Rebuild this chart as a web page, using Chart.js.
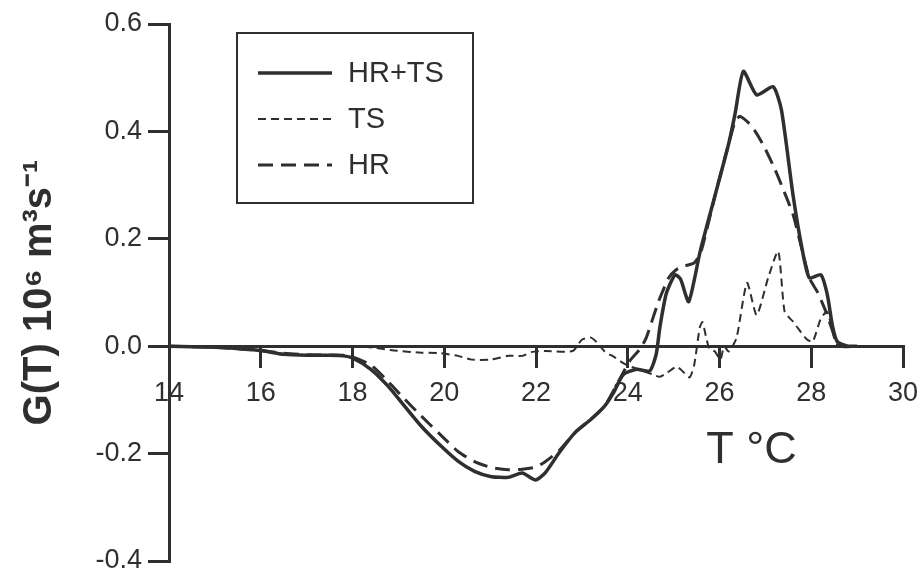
<!DOCTYPE html>
<html><head><meta charset="utf-8">
<script src="https://cdn.jsdelivr.net/npm/chart.js@4.4.1/dist/chart.umd.min.js"></script>
<style>html,body{margin:0;padding:0;background:#fff;} canvas{display:block;}</style>
</head><body>
<canvas id="c" width="921" height="573"></canvas>
<script>
// ---- data ----
const seriesLabels = ['HR+TS', 'TS', 'HR'];

const hrtsT = [14, 15, 15.6, 16, 16.5, 17, 17.5, 17.8, 18, 18.4, 18.77, 19.13, 19.5, 19.93, 20.3, 20.66, 21.03, 21.4, 21.7, 21.99, 22.2, 22.5, 22.85, 23.2, 23.5, 23.7, 23.9, 24.19, 24.48, 24.62, 24.7, 24.84, 25.03, 25.15, 25.33, 25.58, 25.91, 26.2, 26.34, 26.52, 26.81, 27.17, 27.35, 27.6, 27.81, 27.96, 28.21, 28.35, 28.46, 28.57, 28.8, 29.0];
const hrtsG = [0, -0.002, -0.005, -0.008, -0.015, -0.017, -0.017, -0.018, -0.022, -0.043, -0.074, -0.111, -0.149, -0.186, -0.214, -0.233, -0.243, -0.244, -0.236, -0.249, -0.236, -0.199, -0.161, -0.136, -0.111, -0.085, -0.053, -0.043, -0.046, -0.015, 0.035, 0.098, 0.133, 0.125, 0.083, 0.177, 0.283, 0.377, 0.433, 0.512, 0.468, 0.483, 0.44, 0.283, 0.177, 0.127, 0.133, 0.096, 0.039, 0.008, 0, 0];

const tsT = [14, 18, 18.5, 18.9, 19.5, 19.9, 20.3, 20.6, 21.0, 21.4, 21.7, 21.9, 22.2, 22.8, 23.0, 23.2, 23.35, 23.5, 23.7, 23.95, 24.3, 24.55, 24.7, 24.85, 25.07, 25.2, 25.35, 25.45, 25.57, 25.63, 25.7, 25.78, 25.9, 26.02, 26.1, 26.2, 26.37, 26.6, 26.81, 27.06, 27.28, 27.42, 27.6, 27.89, 28.03, 28.21, 28.35, 28.5, 28.6, 29.0];
const tsG = [0, 0, -0.003, -0.008, -0.012, -0.013, -0.018, -0.025, -0.025, -0.018, -0.018, -0.011, -0.009, -0.009, 0.012, 0.016, 0.005, -0.01, -0.02, -0.034, -0.045, -0.053, -0.057, -0.05, -0.038, -0.047, -0.058, -0.034, 0.035, 0.045, 0.02, -0.005, -0.01, -0.025, 0.0, -0.01, 0.015, 0.118, 0.058, 0.127, 0.177, 0.064, 0.046, 0.014, 0.008, 0.052, 0.064, 0.015, 0, 0];

const hrT = [14, 15, 16, 16.5, 17, 17.8, 18, 18.4, 18.77, 19.13, 19.5, 19.93, 20.3, 20.66, 21.03, 21.4, 21.7, 22.0, 22.2, 22.5, 22.85, 23.2, 23.5, 23.8, 24.04, 24.26, 24.4, 24.67, 24.89, 25.05, 25.22, 25.45, 25.6, 25.91, 26.2, 26.34, 26.45, 26.7, 26.94, 27.19, 27.37, 27.6, 27.74, 27.96, 28.14, 28.32, 28.5, 28.62, 29.0];
const hrG = [0, -0.002, -0.008, -0.013, -0.016, -0.017, -0.02, -0.035, -0.065, -0.098, -0.13, -0.166, -0.196, -0.215, -0.226, -0.23, -0.229, -0.225, -0.215, -0.195, -0.161, -0.136, -0.111, -0.065, -0.028, -0.006, 0.015, 0.083, 0.127, 0.142, 0.149, 0.155, 0.177, 0.283, 0.377, 0.418, 0.428, 0.41, 0.377, 0.333, 0.296, 0.246, 0.2, 0.127, 0.10, 0.064, 0.02, 0, 0];

const xTicks = [14, 16, 18, 20, 22, 24, 26, 28, 30];
const yTicks = [-0.4, -0.2, 0.0, 0.2, 0.4, 0.6];
const yTickLabels = ['-0.4', '-0.2', '0.0', '0.2', '0.4', '0.6'];
const yTitle = 'G(T) 10\u2076 m\u00B3s\u207B\u00B9';
const xTitle = 'T \u00B0C';

// ---- styling ----
const INK = '#2f2f2f';
const FONT = "'Liberation Sans', Arial, Helvetica, sans-serif";
Chart.defaults.font.family = FONT;
Chart.defaults.color = INK;

function pts(ts, gs) { return ts.map((t, i) => ({ x: t, y: gs[i] })); }

const boxLegend = {
  id: 'boxLegend',
  afterDatasetsDraw(chart, args, o) {
    const ctx = chart.ctx;
    ctx.save();
    ctx.lineWidth = 2; ctx.strokeStyle = INK; ctx.setLineDash([]);
    ctx.strokeRect(o.x, o.y, o.w, o.h);
    chart.data.datasets.forEach((ds, i) => {
      const y = o.y + o.firstRow + i * o.rowGap;
      ctx.beginPath();
      ctx.setLineDash(ds.borderDash || []);
      ctx.lineWidth = ds.borderWidth;
      ctx.strokeStyle = ds.borderColor;
      ctx.moveTo(o.x + o.lineStart, y);
      ctx.lineTo(o.x + o.lineStart + o.lineLen, y);
      ctx.stroke();
      ctx.setLineDash([]);
      ctx.fillStyle = INK; ctx.font = o.font; ctx.textBaseline = 'middle'; ctx.textAlign = 'left';
      ctx.fillText(ds.label, o.x + o.textStart, y + 1);
    });
    ctx.restore();
  }
};

const xTitlePlugin = {
  id: 'xTitlePlugin',
  afterDraw(chart, args, o) {
    const ctx = chart.ctx;
    const x = chart.scales.x.getPixelForValue(o.atX);
    const y = chart.scales.y.getPixelForValue(o.atY);
    ctx.save();
    ctx.fillStyle = INK; ctx.font = o.font; ctx.textAlign = 'center'; ctx.textBaseline = 'alphabetic';
    ctx.fillText(o.text, x, y);
    ctx.restore();
  }
};

new Chart(document.getElementById('c'), {
  type: 'line',
  data: {
    datasets: [
      { label: seriesLabels[0], data: pts(hrtsT, hrtsG), borderColor: INK, borderWidth: 3.5, borderDash: [], pointRadius: 0, tension: 0.2, fill: false },
      { label: seriesLabels[1], data: pts(tsT, tsG), borderColor: INK, borderWidth: 2, borderDash: [8, 5], pointRadius: 0, tension: 0.2, fill: false },
      { label: seriesLabels[2], data: pts(hrT, hrG), borderColor: INK, borderWidth: 3, borderDash: [15, 8], pointRadius: 0, tension: 0.2, fill: false }
    ]
  },
  options: {
    responsive: false,
    animation: false,
    layout: { padding: { left: 0, top: 24, right: 18, bottom: 12 } },
    plugins: {
      legend: { display: false },
      tooltip: { enabled: false },
      boxLegend: { x: 237, y: 33, w: 236, h: 170, firstRow: 40, rowGap: 46, lineStart: 21, lineLen: 74, textStart: 111, font: "29px " + FONT },
      xTitlePlugin: { text: xTitle, atX: 26.7, atY: -0.218, font: "45px " + FONT }
    },
    scales: {
      x: {
        type: 'linear', position: { y: 0 }, min: 14, max: 30,
        afterBuildTicks: s => { s.ticks = xTicks.map(v => ({ value: v })); },
        afterFit: s => { s.paddingLeft = 0; s.paddingRight = 10; },
        ticks: { font: { size: 27 }, color: INK, padding: 11, maxRotation: 0, autoSkip: false, callback: v => String(v) },
        grid: { drawOnChartArea: false, drawTicks: true, tickLength: 20, tickWidth: 3, tickColor: INK, color: INK, lineWidth: 3 },
        border: { display: true, color: INK, width: 3 }
      },
      y: {
        type: 'linear', position: 'left', min: -0.4, max: 0.6,
        afterBuildTicks: s => { s.ticks = yTicks.map(v => ({ value: v })); },
        afterFit: s => { s.width = 169; s.paddingTop = 0; s.paddingBottom = 0; },
        ticks: { font: { size: 27 }, color: INK, padding: 6, autoSkip: false,
                 callback: v => { const i = yTicks.findIndex(t => Math.abs(t - v) < 1e-9); return i >= 0 ? yTickLabels[i] : ''; } },
        grid: { drawOnChartArea: false, drawTicks: true, tickLength: 21, tickWidth: 3, tickColor: INK, color: INK, lineWidth: 3 },
        border: { display: true, color: INK, width: 3 },
        title: { display: true, text: yTitle, font: { size: 40, weight: 'bold' }, color: INK, padding: { top: 16, bottom: 0 } }
      }
    }
  },
  plugins: [boxLegend, xTitlePlugin]
});
</script>
</body></html>
